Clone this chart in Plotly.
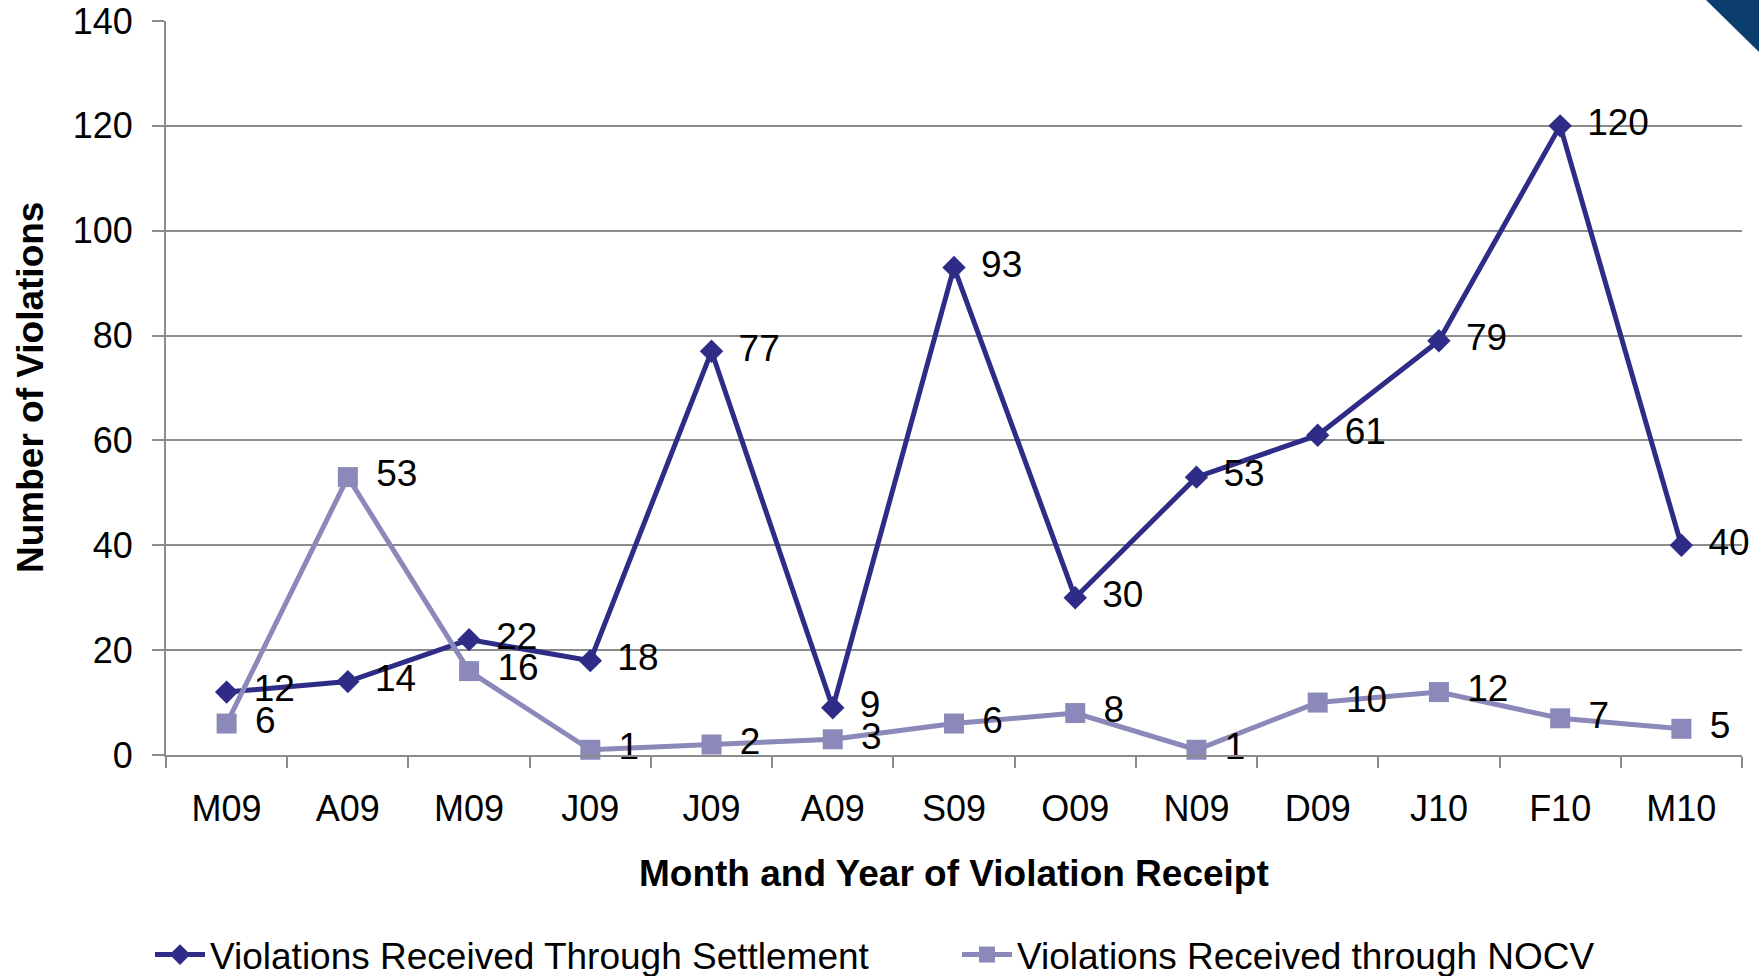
import plotly.graph_objects as go

months = ["M09", "A09", "M09", "J09", "J09", "A09", "S09", "O09", "N09", "D09", "J10", "F10", "M10"]
settlement = [12, 14, 22, 18, 77, 9, 93, 30, 53, 61, 79, 120, 40]
nocv = [6, 53, 16, 1, 2, 3, 6, 8, 1, 10, 12, 7, 5]
y_ticks = [0, 20, 40, 60, 80, 100, 120, 140]

x_idx = list(range(len(months)))
FONT = "Arial, Liberation Sans, sans-serif"
C_SET = "#2E2C86"
C_NOCV = "#8A89B9"
GRID = "#8C8C8C"
LBL = 37

fig = go.Figure()
fig.add_trace(go.Scatter(
    x=x_idx, y=settlement, mode="lines+markers+text",
    name="Violations Received Through Settlement",
    line=dict(color=C_SET, width=5),
    marker=dict(symbol="diamond", size=18, color=C_SET),
    text=[f"\u2009\u2009{v}" for v in settlement], textposition="middle right",
    textfont=dict(family=FONT, size=LBL, color="#000000"),
    cliponaxis=False,
))
fig.add_trace(go.Scatter(
    x=x_idx, y=nocv, mode="lines+markers+text",
    name="Violations Received through NOCV",
    line=dict(color=C_NOCV, width=5),
    marker=dict(symbol="square", size=20, color=C_NOCV),
    text=[f"\u2009\u2009{v}" for v in nocv], textposition="middle right",
    textfont=dict(family=FONT, size=LBL, color="#000000"),
    cliponaxis=False,
))

W, H = 1759, 976
L, R, T, B = 166, 17, 21, 221
pw, ph = W - L - R, H - T - B

def px_x(p):
    return (p - L) / pw

def px_y(p):
    return (H - B - p) / ph

fig.update_layout(
    width=W, height=H,
    margin=dict(l=L, r=R, t=T, b=B, autoexpand=False),
    paper_bgcolor="white", plot_bgcolor="white",
    font=dict(family=FONT, size=36, color="#000000"),
    showlegend=True,
    legend=dict(
        orientation="h", x=px_x(150), y=px_y(955), xanchor="left", yanchor="middle",
        font=dict(family=FONT, size=37, color="#000000"),
        entrywidth=742, entrywidthmode="pixels", itemwidth=50,
        bgcolor="rgba(0,0,0,0)",
    ),
    xaxis=dict(
        range=[-0.5, 12.5], tickmode="array", tickvals=x_idx, ticktext=months,
        ticks="", showgrid=False, zeroline=False,
        showline=True, linecolor=GRID, linewidth=2,
        tickfont=dict(family=FONT, size=36, color="#000000"),
        ticklabelstandoff=21,
        minor=dict(tickmode="linear", tick0=-0.5, dtick=1, ticks="outside",
                   ticklen=11, tickwidth=2, tickcolor=GRID, showgrid=False),
    ),
    yaxis=dict(
        range=[0, 140], tickmode="array", tickvals=y_ticks,
        ticks="outside", ticklen=12, tickwidth=2, tickcolor=GRID,
        showgrid=True, gridcolor=GRID, gridwidth=2,
        zeroline=False, showline=True, linecolor=GRID, linewidth=2,
        tickfont=dict(family=FONT, size=36, color="#000000"),
        ticklabelstandoff=12,
    ),
    annotations=[
        dict(text="<b>Month and Year of Violation Receipt</b>", xref="paper", yref="paper",
             x=0.5, y=px_y(873), xanchor="center", yanchor="middle", showarrow=False,
             font=dict(family=FONT, size=37, color="#000000")),
        dict(text="<b>Number of Violations</b>", xref="paper", yref="paper",
             x=px_x(30), y=0.5, xanchor="center", yanchor="middle", showarrow=False,
             textangle=-90, font=dict(family=FONT, size=37, color="#000000")),
    ],
    shapes=[
        dict(type="path", xref="paper", yref="paper", layer="above",
             path=f"M {px_x(1706)} {px_y(0)} L {px_x(1760)} {px_y(0)} L {px_x(1760)} {px_y(53)} Z",
             fillcolor="#0B3D6E", line=dict(width=0)),
    ],
)

fig.write_html("out.html")
